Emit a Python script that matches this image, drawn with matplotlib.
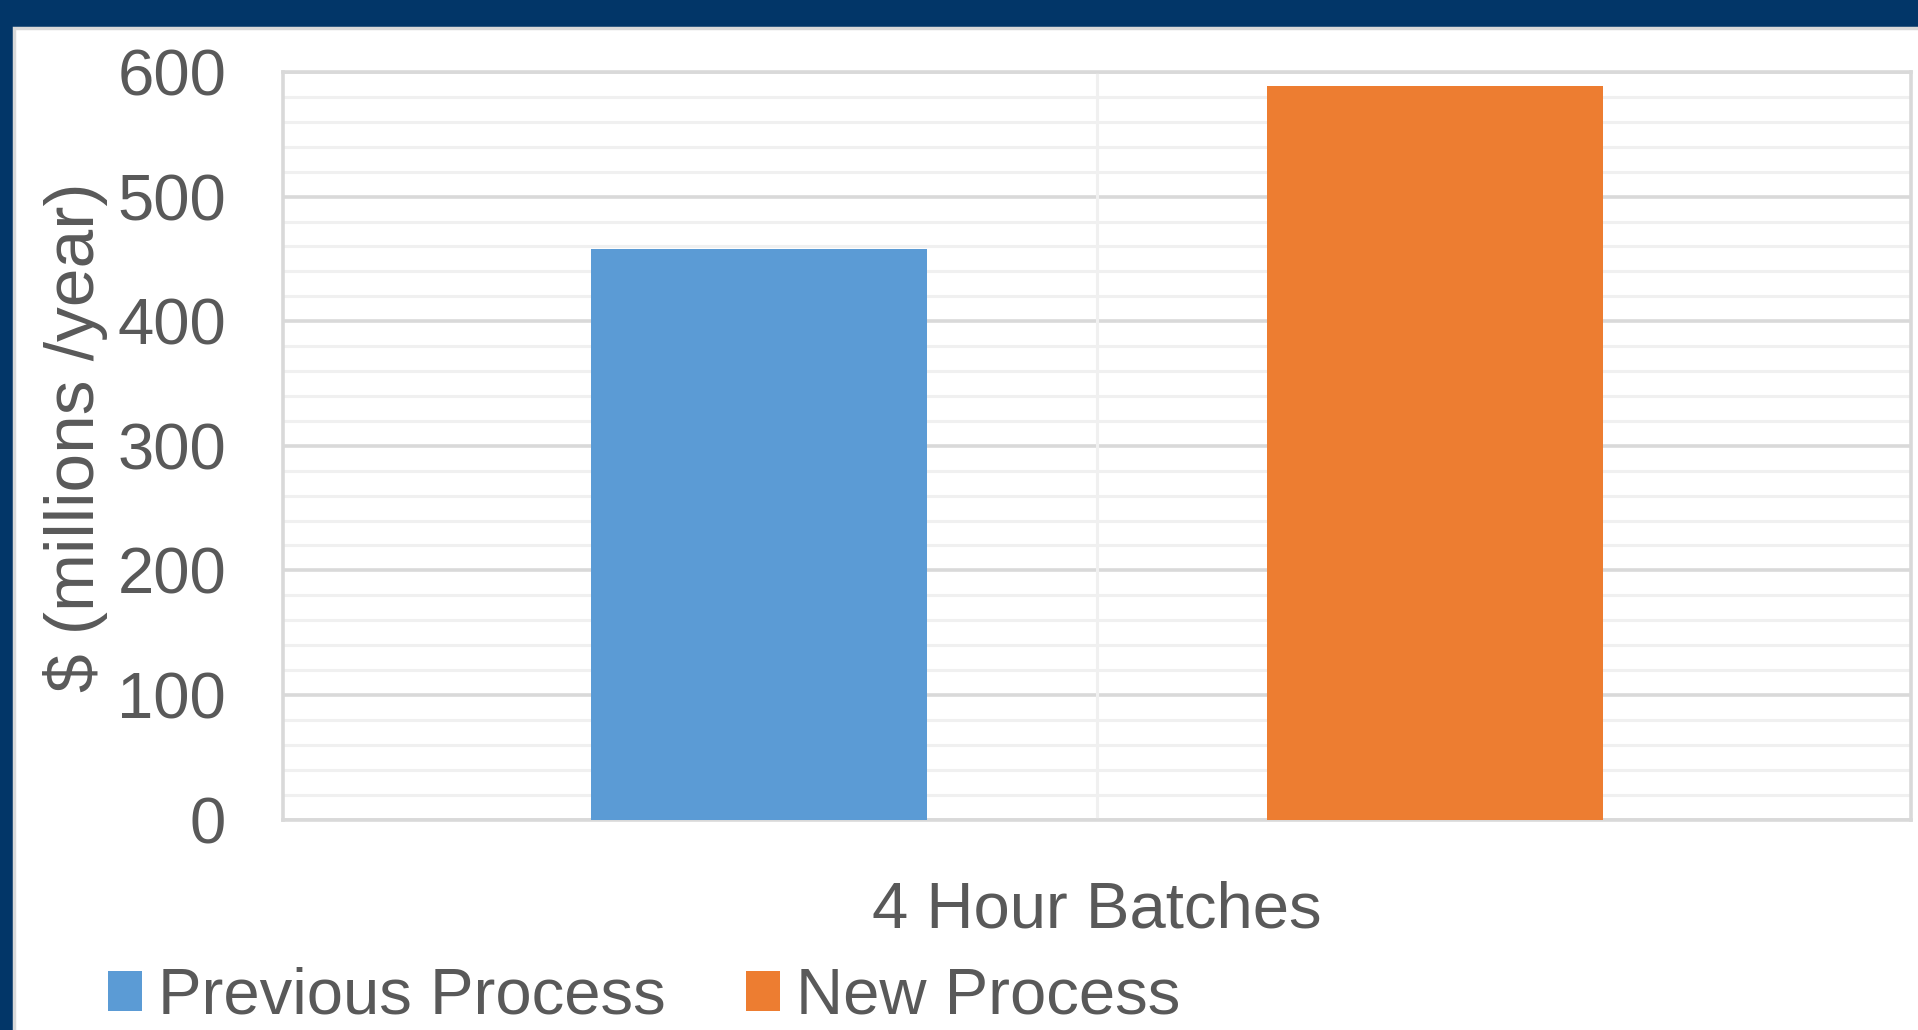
import matplotlib

matplotlib.use("Agg")
import matplotlib.pyplot as plt
import matplotlib.ticker as mtick
from matplotlib.patches import Rectangle

# chart values
categories = ["4 Hour Batches"]
series_names = ["Previous Process", "New Process"]
previous_values = [458]
new_values = [589]
y_ticks = [0, 100, 200, 300, 400, 500, 600]
y_label = "$ (millions /year)"

BLUE = "#5B9BD5"
ORANGE = "#ED7D31"
TEXT = "#595959"
NAVY = "#023668"
GRID_MAJOR = "#D9D9D9"
GRID_MINOR = "#F0F0F0"
FONT = "Liberation Sans"

W, H, DPI = 1918, 1030, 100


def main() -> None:
    fig = plt.figure(figsize=(W / DPI, H / DPI), dpi=DPI, facecolor=NAVY)

    # white slide panel with its light border on top/left
    panel = Rectangle(
        (13.5 / W, -0.1), 1, 1.1 - 28 / H,
        transform=fig.transFigure, facecolor="white",
        edgecolor="#D9D9D9", linewidth=2.5, zorder=-10,
    )
    fig.patches.append(panel)

    ax = fig.add_axes([283 / W, 1 - 819.5 / H, (1911 - 283) / W, (819.5 - 72) / H])
    ax.set_facecolor("white")

    x = [i + 1 for i in range(len(categories))]
    width = 0.413
    offset = 0.415
    b1 = ax.bar([v - offset for v in x], previous_values, width=width,
                color=BLUE, label=series_names[0], zorder=3)
    b2 = ax.bar([v + offset for v in x], new_values, width=width,
                color=ORANGE, label=series_names[1], zorder=3)

    ax.set_xlim(0, 2 * len(categories))
    ax.set_ylim(y_ticks[0], y_ticks[-1])
    ax.set_yticks(y_ticks)
    ax.yaxis.set_minor_locator(mtick.MultipleLocator(20))
    ax.set_xticks(x)
    ax.set_xticklabels(categories)

    ax.grid(True, axis="y", which="minor", color=GRID_MINOR, linewidth=2.2, zorder=1)
    ax.grid(True, axis="y", which="major", color=GRID_MAJOR, linewidth=2.6, zorder=1)
    ax.set_axisbelow(True)
    for v in x:
        ax.axvline(v, color=GRID_MINOR, linewidth=2.2, zorder=1)

    for side in ["left", "right", "top", "bottom"]:
        ax.spines[side].set_color(GRID_MAJOR)
        ax.spines[side].set_linewidth(2.6)

    ax.tick_params(axis="y", which="both", length=0, pad=41, labelsize=47,
                   labelcolor=TEXT)
    ax.tick_params(axis="x", which="both", length=0, pad=44, labelsize=47,
                   labelcolor=TEXT)
    for lbl in ax.get_xticklabels() + ax.get_yticklabels():
        lbl.set_family(FONT)

    fig.text(76 / W, 1 - 437 / H, y_label, rotation=90, ha="center", va="center",
             fontsize=50, color=TEXT, family=FONT)

    leg = fig.legend(
        handles=[b1, b2], loc="center left",
        bbox_to_anchor=(108 / W, 1 - 997 / H), ncol=2, frameon=False,
        prop={"family": FONT, "size": 47},
        handlelength=0.52, handleheight=0.55, handletextpad=0.24,
        columnspacing=1.24, borderpad=0, borderaxespad=0,
    )
    for t in leg.get_texts():
        t.set_color(TEXT)

    fig.savefig("out.png", dpi=DPI, facecolor=NAVY)


if __name__ == "__main__":
    main()
